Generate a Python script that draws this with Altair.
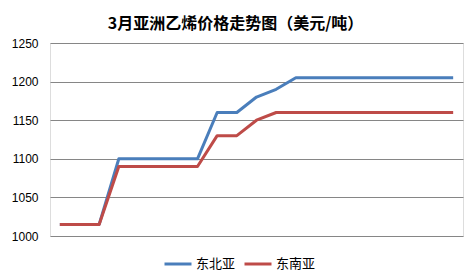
import altair as alt
import pandas as pd

idx = list(range(1, 22))
ne_asia = [1015, 1015, 1015, 1100, 1100, 1100, 1100, 1100, 1160, 1160, 1180,
           1190, 1205, 1205, 1205, 1205, 1205, 1205, 1205, 1205, 1205]
se_asia = [1015, 1015, 1015, 1090, 1090, 1090, 1090, 1090, 1130, 1130, 1150,
           1160, 1160, 1160, 1160, 1160, 1160, 1160, 1160, 1160, 1160]
series = ["东北亚", "东南亚"]
colors = ["#4A7EBB", "#BE4B48"]
y_ticks = [1000, 1050, 1100, 1150, 1200, 1250]

rows = []
for i, a, b in zip(idx, ne_asia, se_asia):
    rows.append({"day": i, "s": series[0], "v": a})
    rows.append({"day": i, "s": series[1], "v": b})
df = pd.DataFrame(rows)

chart = alt.Chart(df).mark_line(strokeWidth=3, strokeJoin="round").encode(
    x=alt.X("day:Q", scale=alt.Scale(domain=[0.5, 21.5], nice=False), axis=None),
    y=alt.Y("v:Q", scale=alt.Scale(domain=[1000, 1250], nice=False),
            axis=alt.Axis(values=y_ticks, format="d", title=None, domain=False, ticks=False,
                          labelPadding=12, labelFont="Liberation Sans", labelFontSize=12,
                          labelColor="#000000", gridColor="#868686", gridWidth=1.2)),
    color=alt.Color("s:N", scale=alt.Scale(domain=series, range=colors),
                    legend=alt.Legend(title=None, orient="none", legendX=113, legendY=206,
                                      direction="horizontal", symbolType="stroke",
                                      symbolSize=729, symbolStrokeWidth=3,
                                      labelFont="Noto Sans CJK SC", labelFontSize=13,
                                      labelColor="#000000", columnPadding=2, labelOffset=3)),
    order="day:Q",
).properties(
    width=413, height=193,
    title=alt.TitleParams("3月亚洲乙烯价格走势图（美元/吨）", anchor="middle", dx=-21,
                          font="Noto Sans CJK SC", fontSize=16, fontWeight="bold",
                          color="#000000", offset=5),
    autosize=alt.AutoSizeParams(type="none"),
    padding={"left": 50, "top": 43, "right": 12, "bottom": 43},
).configure_view(stroke=None).configure(background="white")

chart.save("out.html", embed_options={"renderer": "svg", "actions": False})
